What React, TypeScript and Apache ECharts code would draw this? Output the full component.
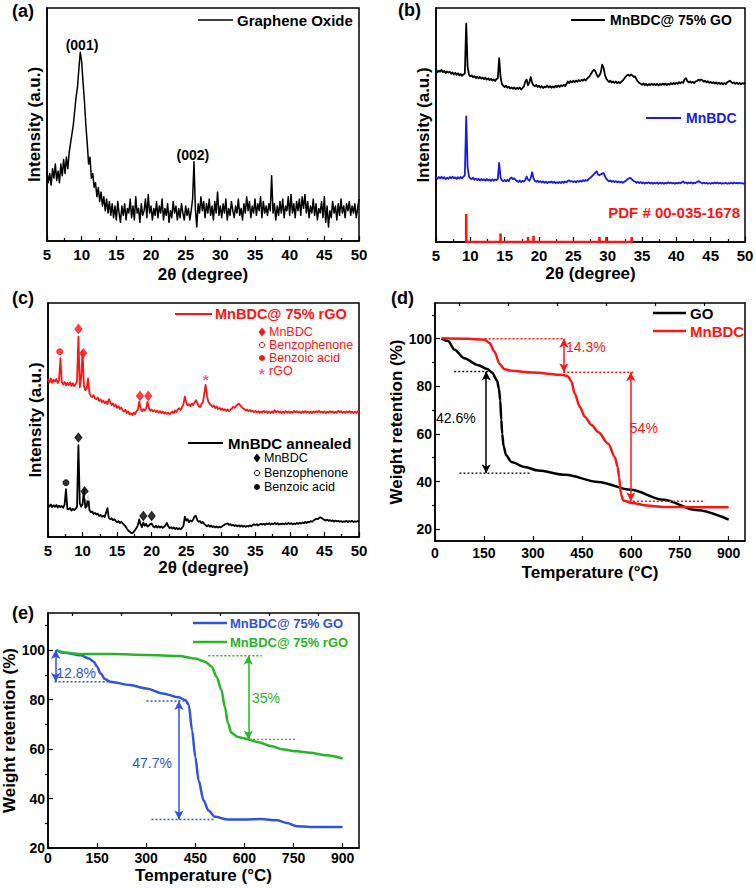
import React, { useEffect, useRef } from "react";
import * as echarts from "echarts";

const FONT = '"Liberation Sans", Arial, sans-serif';

// XRD sampling grid: 2θ = 5 … 50 in 0.2° steps (% of panel height)
const XRD_START = 5;
const XRD_STEP = 0.2;

const xrdGO = [
  30, 25, 29, 24, 31, 27, 33, 26, 30, 25, 33, 28, 35, 29, 36, 31, 38, 42, 46, 50,
  56, 62, 66, 74, 81, 77, 68, 60, 50, 42, 33, 36, 27, 29, 23, 25, 19, 23, 17, 21,
  15, 19, 13, 18, 12, 17, 11, 16, 10, 15, 9, 17, 12, 8, 15, 11, 16, 9, 14, 12,
  18, 10, 15, 9, 19, 12, 14, 8, 16, 11, 13, 18, 10, 20, 12, 15, 9, 14, 11, 17,
  10, 15, 12, 18, 9, 14, 11, 16, 8, 13, 10, 17, 12, 15, 9, 14, 10, 16, 12, 9,
  15, 11, 14, 9, 13, 18, 34, 14, 6, 16, 12, 19, 13, 17, 10, 16, 12, 18, 11, 15,
  9, 17, 12, 21, 11, 15, 10, 16, 12, 18, 9, 14, 11, 17, 13, 10, 15, 12, 18, 11,
  14, 9, 16, 12, 19, 13, 17, 10, 15, 12, 18, 11, 16, 13, 19, 10, 17, 12, 15, 11,
  16, 13, 28, 12, 16, 9, 15, 11, 17, 12, 18, 10, 15, 13, 19, 11, 20, 12, 16, 10,
  17, 13, 18, 11, 19, 14, 20, 12, 17, 10, 15, 12, 18, 11, 16, 9, 14, 12, 17, 10,
  19, 8, 15, 6, 13, 10, 17, 12, 15, 9, 16, 11, 18, 12, 15, 10, 16, 13, 17, 11,
  15, 12, 16, 10, 14, 18,
];

const xrdMnBDC_GO = [
  73.5, 72.5, 73.2, 72.8, 73.6, 72.6, 73.1, 72.2, 72.9, 72.4,
  72.8, 71.9, 72.5, 71.6, 72.3, 71.5, 72.1, 71.2, 71.8, 71.0,
  71.6, 72.0, 93.3, 75.0, 71.5, 70.8, 71.2, 70.4, 70.9, 70.1,
  70.6, 70.0, 70.5, 69.8, 70.3, 69.6, 70.2, 69.4, 69.9, 69.2,
  69.7, 69.0, 69.5, 68.8, 69.6, 70.0, 78.6, 70.5, 67.5, 66.8,
  66.2, 66.8, 65.9, 66.4, 65.6, 66.1, 65.5, 66.0, 65.3, 65.9,
  65.4, 66.0, 65.2, 65.8, 66.5, 68.5, 69.4, 67.0, 68.2, 70.5,
  68.0, 67.0, 66.5, 67.1, 66.2, 66.8, 66.0, 66.6, 65.8, 66.4,
  66.1, 66.9, 66.0, 66.6, 65.9, 66.5, 66.0, 66.8, 66.2, 66.9,
  66.3, 67.0, 66.5, 67.2, 66.6, 67.5, 68.6, 67.9, 68.8, 68.2,
  68.9, 68.3, 69.0, 68.5, 69.2, 68.7, 69.3, 68.9, 69.6, 69.0,
  69.8, 70.3, 71.0, 72.0, 73.0, 73.6, 73.0, 71.5, 70.5, 71.2,
  72.5, 75.8, 74.5, 71.5, 69.8, 69.0, 68.4, 68.9, 68.1, 68.6,
  68.0, 68.6, 67.8, 68.4, 67.9, 68.5, 69.0, 69.8, 70.6, 71.2,
  71.5, 71.0, 71.6, 71.2, 70.5, 70.8, 69.5, 68.6, 68.0, 67.6,
  67.2, 67.8, 67.0, 67.6, 66.9, 67.5, 67.0, 67.7, 67.1, 67.6,
  67.0, 67.6, 66.9, 67.5, 67.1, 67.7, 67.2, 67.8, 67.0, 67.6,
  67.2, 67.9, 67.4, 68.0, 67.5, 68.1, 67.6, 68.3, 67.8, 68.4,
  68.0, 69.5, 70.0, 68.8, 68.2, 68.6, 68.0, 68.5, 67.9, 68.6,
  68.8, 69.4, 69.0, 69.5, 69.1, 68.5, 68.9, 68.2, 68.7, 68.0,
  68.4, 67.9, 68.3, 67.7, 68.2, 67.6, 68.1, 67.5, 68.0, 67.4,
  67.9, 67.5, 68.2, 68.6, 68.9, 68.4, 67.8, 68.2, 67.6, 68.1,
  67.5, 68.0, 67.4, 67.9, 67.6, 68.1,
];

const xrdMnBDC = [
  27.6, 27.0, 27.8, 27.2, 27.9, 27.1, 27.7, 26.9, 27.5, 27.0,
  27.8, 27.2, 27.9, 27.3, 27.6, 27.0, 27.7, 27.1, 27.8, 27.2,
  27.9, 28.5, 53.7, 32.0, 28.0, 27.2, 26.8, 27.5, 26.6, 27.1,
  26.5, 27.0, 26.3, 26.9, 26.4, 26.8, 26.2, 26.9, 26.3, 26.7,
  26.1, 26.8, 26.2, 26.7, 26.4, 27.0, 33.8, 27.5, 26.4, 26.0,
  26.5, 25.9, 26.6, 26.0, 27.2, 27.6, 26.8, 27.2, 26.5, 26.0,
  25.7, 26.3, 25.6, 26.1, 25.8, 26.5, 28.0, 26.6, 26.2, 27.4,
  29.8, 27.2, 26.1, 25.7, 26.2, 25.6, 26.0, 25.4, 25.9, 25.3,
  25.8, 25.2, 25.7, 25.4, 25.9, 25.3, 25.8, 25.1, 25.6, 25.2,
  25.7, 25.2, 25.8, 25.3, 25.9, 25.5, 26.1, 26.3, 25.8, 26.0,
  25.6, 26.0, 25.5, 26.1, 25.7, 26.2, 25.8, 26.4, 26.0, 26.5,
  26.2, 26.8, 27.3, 27.8, 28.4, 29.0, 29.6, 30.2, 28.8, 28.5,
  28.9, 29.2, 29.5, 28.2, 27.0, 26.4, 25.9, 26.3, 25.7, 26.1,
  25.6, 26.0, 25.5, 25.9, 25.4, 25.8, 25.3, 25.7, 26.0, 26.6,
  27.0, 27.4, 27.2, 26.6, 26.0, 25.8, 25.3, 25.7, 25.2, 25.6,
  25.1, 25.5, 25.0, 25.4, 25.1, 25.5, 25.0, 25.4, 24.9, 25.3,
  25.0, 25.4, 24.9, 25.3, 25.0, 25.4, 24.9, 25.3, 25.0, 25.5,
  25.1, 25.4, 25.0, 25.3, 24.9, 25.3, 25.0, 25.4, 25.1, 25.5,
  25.9, 25.2, 25.5, 25.0, 25.4, 25.1, 25.5, 25.0, 25.4, 25.2,
  25.6, 26.0, 25.7, 25.3, 25.0, 25.4, 25.0, 25.3, 24.9, 25.2,
  24.9, 25.3, 25.0, 25.4, 25.1, 25.4, 25.0, 25.3, 24.9, 25.2,
  25.0, 25.3, 24.9, 25.2, 25.0, 25.3, 25.0, 25.4, 25.1, 25.3,
  25.0, 25.3, 25.0, 25.2, 24.9, 25.2,
];

// reference pattern PDF # 00-035-1678
const pdfPos = [9.4, 14.4, 18.4, 19.2, 28.8, 29.8, 33.5];
const pdfHeight = [12, 3.6, 2.1, 2.7, 2.1, 2.1, 2.1];

const xrdMnBDC_rGO = [
  67.5, 66.0, 67.8, 65.9, 67.2, 66.4, 67.5, 65.8, 67.0, 76.4,
  66.0, 65.2, 66.3, 64.8, 65.9, 64.9, 66.1, 64.6, 65.7, 64.5,
  65.3, 66.5, 85.6, 64.0, 68.0, 79.2, 64.5, 62.8, 63.5, 67.8,
  61.5, 60.3, 59.8, 60.6, 59.2, 58.9, 59.6, 58.2, 58.8, 57.6,
  58.3, 57.2, 57.9, 56.8, 58.9, 57.6, 56.4, 57.1, 55.8, 56.5,
  55.2, 55.9, 54.7, 55.3, 54.1, 53.6, 54.4, 53.0, 53.7, 52.4,
  52.9, 52.1, 53.2, 52.5, 53.8, 54.3, 57.8, 55.0, 53.8, 54.6,
  54.0, 55.2, 57.8, 55.0, 53.9, 54.5, 53.7, 54.2, 53.4, 54.0,
  53.2, 53.8, 53.0, 53.6, 52.8, 53.3, 52.6, 53.1, 52.4, 53.0,
  53.6, 52.9, 54.1, 53.5, 54.6, 55.0, 54.3, 55.6, 56.8, 60.0,
  57.5, 56.2, 56.8, 55.9, 57.0, 56.4, 57.5, 58.5, 57.2, 56.0,
  55.5, 56.8, 57.5, 61.0, 65.0, 60.5, 57.8, 57.0, 56.2, 55.6,
  56.2, 55.1, 55.8, 54.7, 55.2, 54.4, 54.9, 54.1, 54.6, 53.9,
  54.5, 53.8, 54.4, 54.9, 55.6, 55.2, 56.0, 56.5, 57.0, 56.4,
  55.6, 55.0, 54.6, 54.1, 54.5, 53.8, 54.3, 53.6, 54.0, 53.4,
  53.9, 53.3, 53.8, 53.1, 53.7, 53.2, 53.9, 53.3, 53.8, 53.0,
  53.6, 53.0, 53.7, 53.1, 54.2, 53.3, 53.9, 53.2, 53.7, 53.0,
  53.6, 53.1, 53.8, 53.2, 53.7, 53.0, 53.6, 53.1, 53.9, 53.3,
  53.8, 53.2, 53.6, 53.0, 53.7, 53.1, 53.8, 53.2, 53.6, 53.0,
  53.5, 53.0, 53.7, 53.2, 53.8, 53.3, 53.9, 53.2, 53.6, 53.1,
  53.7, 53.0, 53.5, 53.1, 53.8, 53.2, 53.7, 53.0, 53.6, 53.1,
  54.0, 53.3, 53.8, 53.1, 53.6, 53.0, 53.7, 53.2, 53.8, 53.1,
  53.6, 53.0, 53.5, 53.1, 53.7, 53.3,
];

const xrdAnnealed = [
  13.8, 13.0, 13.9, 12.8, 13.6, 12.9, 13.7, 12.6, 13.4, 12.8,
  13.2, 12.5, 13.8, 20.4, 12.0, 11.8, 12.4, 11.3, 12.0, 11.5,
  12.1, 13.0, 39.3, 14.4, 13.0, 14.0, 20.4, 12.5, 13.0, 17.5,
  11.5, 10.6, 10.9, 9.8, 10.3, 9.6, 10.0, 9.0, 9.4, 8.7,
  9.1, 8.5, 10.5, 12.3, 8.2, 7.6, 8.0, 7.2, 7.6, 6.9,
  6.3, 6.8, 6.0, 6.5, 5.8, 5.2, 4.6, 3.6, 2.8, 2.3,
  1.8, 1.6, 2.2, 3.0, 3.8, 5.0, 7.5, 5.5, 4.2, 6.2,
  4.8, 5.6, 4.5, 4.9, 5.5, 5.8, 4.6, 4.1, 4.8, 4.0,
  4.6, 4.0, 4.5, 3.9, 4.4, 5.0, 6.0, 4.6, 3.8, 4.2,
  3.6, 4.1, 3.4, 3.9, 3.3, 3.8, 3.3, 3.9, 4.8, 8.7,
  7.0, 7.6, 6.3, 7.1, 6.6, 7.4, 8.8, 9.0, 7.2, 6.5,
  6.8, 5.9, 6.4, 5.6, 5.1, 4.6, 5.1, 4.4, 4.9, 4.2,
  4.6, 4.1, 4.5, 4.0, 4.4, 4.1, 4.6, 4.9, 5.4, 5.6,
  5.8, 5.2, 5.5, 4.9, 5.2, 4.7, 5.1, 4.6, 5.0, 4.5,
  4.9, 4.4, 4.8, 4.3, 4.7, 4.5, 5.0, 4.6, 5.1, 5.4,
  5.1, 5.5, 4.9, 5.3, 5.7, 5.3, 5.7, 5.2, 5.8, 5.4,
  5.9, 5.3, 5.8, 5.4, 6.0, 5.5, 5.9, 5.3, 5.7, 5.4,
  5.8, 5.4, 5.9, 5.5, 6.0, 5.6, 5.9, 5.4, 5.8, 5.5,
  6.0, 5.6, 6.1, 5.7, 6.2, 5.9, 6.4, 6.0, 6.5, 6.3,
  6.8, 6.5, 7.0, 7.4, 7.8, 7.6, 8.0, 8.4, 8.1, 7.7,
  7.3, 7.0, 7.4, 6.9, 7.2, 6.8, 7.1, 6.6, 7.0, 6.7,
  6.9, 6.5, 6.8, 6.4, 6.7, 6.5, 6.9, 6.4, 6.8, 6.5,
  6.9, 6.4, 6.7, 6.5, 6.8, 6.6,
];

// phase markers in panel (c)
const rgoMnBDC = [[9.4, 88.9], [10.1, 78.5], [18.3, 60.3], [19.5, 60.3]];
const rgoBenzophenone = [[10.95, 70]];
const rgoBenzoic = [[6.7, 79.2]];
const rgoStar = [27.8, 67.4];
const annMnBDC = [[9.4, 42.5], [10.3, 19.5], [18.8, 9], [20.0, 9]];
const annBenzophenone = [[10.9, 17.2]];
const annBenzoic = [[7.6, 23.2]];

// TGA (d)
const goT = [20, 40, 60, 90, 130, 160, 175, 190, 196, 200, 203, 206, 210, 218, 234, 275, 316, 400, 500, 600, 700, 800, 900];
const goW = [100, 99, 95.4, 91.8, 89, 87.3, 85.8, 82.5, 79, 74, 66, 60, 55, 51, 48.2, 46.1, 44.6, 42.8, 39.8, 36.5, 32.3, 28, 24];
const mnT = [20, 100, 152, 167, 182, 198, 213, 234, 300, 393, 408, 418, 428, 444, 459, 480, 500, 531, 551, 560, 564, 570, 577, 603, 650, 700, 800, 900];
const mnW = [100.2, 100, 99.6, 98.2, 94.6, 89.4, 87.2, 86.5, 85.8, 84.8, 84.1, 82, 77, 71.3, 67.2, 63.7, 60.8, 55.9, 50.3, 46, 41.8, 34.8, 32, 31, 29.9, 29.3, 29.2, 29.2];

// TGA (e)
const goCompT = [25, 50, 100, 125, 140, 150, 160, 175, 190, 250, 300, 350, 400, 420, 430, 440, 450, 460, 475, 490, 510, 550, 600, 650, 700, 730, 760, 800, 900];
const goCompW = [100, 98.9, 97.9, 96.6, 95.3, 93.3, 90.6, 88.2, 87.2, 85.9, 84.5, 82.5, 80.9, 79.8, 77.8, 67.6, 56.8, 47.4, 39.3, 35.2, 32.6, 31.5, 31.5, 31.7, 31.2, 30.1, 28.8, 28.5, 28.5];
const rgoCompT = [25, 60, 100, 200, 300, 400, 450, 480, 500, 515, 530, 540, 550, 560, 580, 600, 640, 680, 720, 760, 800, 850, 900];
const rgoCompW = [100, 98.9, 98.4, 98.4, 98, 97.6, 96.6, 95.3, 93.3, 89.2, 83.8, 77.1, 70.3, 66.6, 64.9, 64.3, 62.9, 61.2, 59.8, 59.1, 58.5, 57.5, 56.2];

const tgaLabels = [20, 40, 60, 80, 100];
const tgaMinor = [30, 50, 70, 90, 110];
const tempLabels = [0, 150, 300, 450, 600, 750, 900];
const tempMinor = [75, 225, 375, 525, 675, 825];

const BLACK = "#000000";
const RED = "#ff1414";
const BLUE_B = "#1a1ae6";
const BLUE_E = "#2f52e0";
const GREEN = "#28b428";
const PINK = "#f06a8a";

function App() {
  const ref = useRef<HTMLDivElement>(null);

  useEffect(() => {
    const el = ref.current;
    if (!el) return;
    const chart = echarts.init(el, undefined, { renderer: "svg" });

    const toXY = (arr: number[]) => arr.map((v, i) => [+(XRD_START + i * XRD_STEP).toFixed(2), v]);
    const pair = (xs: number[], ys: number[]) => xs.map((x, i) => [x, ys[i]]);
    const sticks: number[][] = [];
    pdfPos.forEach((p, i) => {
      sticks.push([p, 0], [p, pdfHeight[i]], [p, 0]);
    });

    const tick = { color: BLACK, width: 1.2 };
    const axisLine = { show: true, onZero: false, lineStyle: { color: BLACK, width: 1.5 } };
    const nameStyle = { color: BLACK, fontSize: 17, fontWeight: "bold", fontFamily: FONT };

    const grids = [
      { left: 47, top: 8, width: 312, height: 233 },
      { left: 436, top: 8, width: 309, height: 234 },
      { left: 48, top: 303, width: 311, height: 234 },
      { left: 435, top: 303, width: 310, height: 238 },
      { left: 48, top: 613, width: 311, height: 235 },
    ].map((g) => ({ ...g, show: true, borderColor: BLACK, borderWidth: 1.5, containLabel: false, outerBoundsMode: "none" }));

    const xrdX = (gridIndex: number, nameGap: number) => ({
      gridIndex, type: "value", min: 5, max: 50, interval: 5,
      axisLine, axisTick: { inside: true, length: 5, lineStyle: tick },
      minorTick: { show: true, splitNumber: 2, length: 3, lineStyle: tick },
      splitLine: { show: false }, minorSplitLine: { show: false },
      axisLabel: { color: BLACK, fontSize: 15, fontWeight: "bold", margin: 6, fontFamily: FONT },
      name: "2θ (degree)", nameLocation: "middle", nameGap, nameTextStyle: nameStyle,
    });
    const xrdY = (gridIndex: number) => ({
      gridIndex, type: "value", min: 0, max: 100,
      axisLine, axisTick: { show: false }, axisLabel: { show: false }, splitLine: { show: false },
      name: "Intensity (a.u.)", nameLocation: "middle", nameGap: 4, nameTextStyle: nameStyle,
    });
    const tempX = (gridIndex: number, nameGap: number, margin: number) => ({
      gridIndex, type: "value", min: 0, max: 950,
      axisLine,
      axisTick: { inside: true, length: 5, lineStyle: tick, customValues: tempLabels },
      splitLine: { show: false },
      axisLabel: { color: BLACK, fontSize: 14, fontWeight: "bold", margin, fontFamily: FONT, customValues: tempLabels },
      name: "Temperature (°C)", nameLocation: "middle", nameGap, nameTextStyle: nameStyle,
    });
    const tempMinorX = (gridIndex: number) => ({
      gridIndex, type: "value", min: 0, max: 950,
      axisLine: { show: false }, axisLabel: { show: false }, splitLine: { show: false },
      axisTick: { inside: true, length: 3, lineStyle: tick, customValues: tempMinor },
    });
    const wY = (gridIndex: number, min: number, nameGap: number) => ({
      gridIndex, type: "value", min, max: 115,
      axisLine,
      axisTick: { inside: true, length: 5, lineStyle: tick, customValues: tgaLabels },
      splitLine: { show: false },
      axisLabel: { color: BLACK, fontSize: 14, fontWeight: "bold", margin: 3, fontFamily: FONT, customValues: tgaLabels },
      name: "Weight retention (%)", nameLocation: "middle", nameGap, nameTextStyle: nameStyle,
    });
    const wMinorY = (gridIndex: number, min: number) => ({
      gridIndex, type: "value", min, max: 115,
      axisLine: { show: false }, axisLabel: { show: false }, splitLine: { show: false },
      axisTick: { inside: true, length: 3, lineStyle: tick, customValues: tgaMinor },
    });

    const trace = (xi: number, data: number[][], color: string, width: number) => ({
      type: "line", xAxisIndex: xi, yAxisIndex: xi, data, symbol: "none",
      lineStyle: { color, width, join: "round" }, silent: true, z: 3,
    });
    const marks = (xi: number, data: number[][], symbol: string, size: any, color: string) => ({
      type: "scatter", xAxisIndex: xi, yAxisIndex: xi, data, symbol, symbolSize: size,
      itemStyle: { color, borderColor: color, borderWidth: 1 }, silent: true, z: 5,
    });
    const dotted = (xi: number, data: number[][], color: string) => ({
      type: "line", xAxisIndex: xi, yAxisIndex: xi, data, symbol: "none", silent: true, z: 4,
      lineStyle: { color, width: 1.4, type: [2, 2] },
    });
    const arrow = (xi: number, x: number, y1: number, y2: number, color: string) => ({
      type: "line", xAxisIndex: xi, yAxisIndex: xi, data: [], silent: true, z: 4,
      markLine: {
        silent: true, animation: false, symbol: ["arrow", "arrow"], symbolSize: [7, 9],
        label: { show: false }, lineStyle: { color, width: 1.5, type: "solid" },
        data: [[{ coord: [x, y1] }, { coord: [x, y2] }]],
      },
    });
    const tga = (xi: number, data: number[][], color: string) => ({
      type: "line", xAxisIndex: xi, yAxisIndex: xi, data, symbol: "none", smooth: 0.3, smoothMonotone: "x",
      lineStyle: { color, width: 2.5 }, silent: true, z: 3,
    });

    const series: any[] = [
      // (a)
      trace(0, toXY(xrdGO), BLACK, 1.5),
      // (b)
      trace(1, toXY(xrdMnBDC_GO), BLACK, 1.8),
      trace(1, toXY(xrdMnBDC), BLUE_B, 1.8),
      { type: "line", xAxisIndex: 1, yAxisIndex: 1, data: sticks, symbol: "none", silent: true, z: 4, lineStyle: { color: RED, width: 2.6 } },
      // (c)
      trace(2, toXY(xrdMnBDC_rGO), RED, 1.8),
      trace(2, toXY(xrdAnnealed), BLACK, 1.8),
      marks(2, rgoMnBDC, "diamond", [7, 9], RED),
      marks(2, rgoBenzoic, "circle", 6, RED),
      { ...marks(2, rgoBenzophenone, "emptyCircle", 6, RED), itemStyle: { color: "#fff", borderColor: RED, borderWidth: 1 } },
      marks(2, annMnBDC, "diamond", [7, 9], BLACK),
      marks(2, annBenzoic, "circle", 6, BLACK),
      { ...marks(2, annBenzophenone, "emptyCircle", 6, BLACK), itemStyle: { color: "#fff", borderColor: BLACK, borderWidth: 1 } },
      // (d)
      dotted(3, [[59, 86.2], [167, 86.2]], BLACK),
      dotted(3, [[75, 43.5], [295, 43.5]], BLACK),
      dotted(3, [[152, 100], [398, 100]], RED),
      dotted(3, [[393, 85.9], [613, 85.9]], RED),
      dotted(3, [[582, 31.7], [828, 31.7]], RED),
      arrow(3, 157, 86.2, 43.5, BLACK),
      arrow(3, 395, 100, 85.9, RED),
      arrow(3, 600, 85.9, 31.7, RED),
      tga(3, pair(goT, goW), BLACK),
      tga(3, pair(mnT, mnW), RED),
      // (e)
      dotted(4, [[20, 87.2], [194, 87.2]], BLUE_E),
      dotted(4, [[301, 79.4], [423, 79.4]], BLUE_E),
      dotted(4, [[316, 31.5], [510, 31.5]], BLUE_E),
      dotted(4, [[490, 97.7], [653, 97.7]], GREEN),
      dotted(4, [[602, 63.9], [760, 63.9]], GREEN),
      arrow(4, 23.5, 100, 87.2, BLUE_E),
      arrow(4, 400, 79.4, 31.5, BLUE_E),
      arrow(4, 612, 97.7, 63.9, GREEN),
      tga(4, pair(goCompT, goCompW), BLUE_E),
      tga(4, pair(rgoCompT, rgoCompW), GREEN),
    ];

    chart.setOption({
      animation: false,
      backgroundColor: "#ffffff",
      textStyle: { fontFamily: FONT },
      grid: grids,
      xAxis: [xrdX(0, 25), xrdX(1, 23), xrdX(2, 22), tempX(3, 23, 5), tempX(4, 19, 3), tempMinorX(3), tempMinorX(4)],
      yAxis: [xrdY(0), xrdY(1), xrdY(2), wY(3, 15, 25), wY(4, 20, 28), wMinorY(3, 15), wMinorY(4, 20)],
      series,
    } as any);

    const txt = (x: number, y: number, text: string, fill: string, fontSize: number, fontWeight = "bold", align = "left") => ({
      type: "text", x, y, silent: true, z: 10,
      style: { text, fill, fontSize, fontWeight, fontFamily: FONT, align, verticalAlign: "middle" },
    });
    const seg = (x1: number, x2: number, y: number, stroke: string, lineWidth: number) => ({
      type: "line", silent: true, z: 10, shape: { x1, y1: y, x2, y2: y }, style: { stroke, lineWidth },
    });
    const diamond = (x: number, y: number, fill: string) => ({
      type: "polygon", silent: true, z: 10,
      shape: { points: [[x, y - 4.5], [x + 3.5, y], [x, y + 4.5], [x - 3.5, y]] }, style: { fill },
    });
    const dot = (x: number, y: number, color: string, filled: boolean) => ({
      type: "circle", silent: true, z: 10, shape: { cx: x, cy: y, r: filled ? 3 : 2.6 },
      style: filled ? { fill: color } : { fill: "#fff", stroke: color, lineWidth: 1 },
    });
    // annotation anchored in data coordinates
    const note = (gi: number, at: number[], text: string, fill: string, fontSize: number, fontWeight = "normal") => {
      const p = chart.convertToPixel({ xAxisIndex: gi, yAxisIndex: gi } as any, at) as number[];
      return txt(p[0], p[1], text, fill, fontSize, fontWeight, "center");
    };

    const graphic = [
      txt(12, 11, "(a)", BLACK, 18), txt(398, 10, "(b)", BLACK, 18), txt(12, 298, "(c)", BLACK, 18),
      txt(391, 298, "(d)", BLACK, 18), txt(12, 613, "(e)", BLACK, 18),
      // (a)
      note(0, [10.05, 84], "(001)", BLACK, 14, "bold"),
      note(0, [26.05, 37], "(002)", BLACK, 14, "bold"),
      seg(198, 233, 20, BLACK, 1.5), txt(237, 20, "Graphene Oxide", BLACK, 15),
      // (b) legend
      seg(571, 605, 20, BLACK, 1.8), txt(610, 20, "MnBDC@ 75% GO", BLACK, 14),
      seg(646, 681, 118, BLUE_B, 1.8), txt(686, 118, "MnBDC", BLUE_B, 14),
      txt(740, 212, "PDF # 00-035-1678", RED, 15, "bold", "right"),
      // (c)
      note(2, rgoStar, "*", PINK, 15, "bold"),
      seg(175, 212, 314, RED, 1.8), txt(215, 314, "MnBDC@ 75% rGO", RED, 14.5),
      diamond(262, 332, RED), txt(269, 332, "MnBDC", RED, 12.5, "normal"),
      dot(262, 345, RED, false), txt(269, 345, "Benzophenone", RED, 12.5, "normal"),
      dot(262, 358, RED, true), txt(269, 358, "Benzoic acid", RED, 12.5, "normal"),
      txt(262, 373, "*", PINK, 15, "bold", "center"), txt(269, 371, "rGO", RED, 12.5, "normal"),
      seg(188, 223, 443, BLACK, 1.8), txt(228, 443, "MnBDC annealed", BLACK, 15),
      diamond(257, 458, BLACK), txt(264, 458, "MnBDC", BLACK, 12.5, "normal"),
      dot(257, 473, BLACK, false), txt(264, 473, "Benzophenone", BLACK, 12.5, "normal"),
      dot(257, 487, BLACK, true), txt(264, 487, "Benzoic acid", BLACK, 12.5, "normal"),
      // (d)
      note(3, [64, 66.7], "42.6%", BLACK, 14),
      note(3, [462, 96.5], "14.3%", RED, 14),
      note(3, [640, 62.5], "54%", RED, 14),
      seg(653, 686, 313, BLACK, 2.5), txt(690, 313, "GO", BLACK, 15),
      seg(653, 686, 331, RED, 2.5), txt(690, 331, "MnBDC", RED, 15),
      // (e)
      note(4, [86, 90.7], "12.8%", BLUE_E, 14),
      note(4, [318, 54.4], "47.7%", BLUE_E, 14),
      note(4, [666, 80.6], "35%", GREEN, 14),
      seg(193, 227, 623, BLUE_E, 2.5), txt(230, 623, "MnBDC@ 75% GO", BLUE_E, 13),
      seg(193, 227, 642, GREEN, 2.5), txt(230, 642, "MnBDC@ 75% rGO", GREEN, 13),
    ];

    chart.setOption({ graphic } as any);

    return () => chart.dispose();
  }, []);

  return <div ref={ref} style={{ position: "absolute", left: 0, top: 0, width: 756, height: 889 }} />;
}

export default App;
